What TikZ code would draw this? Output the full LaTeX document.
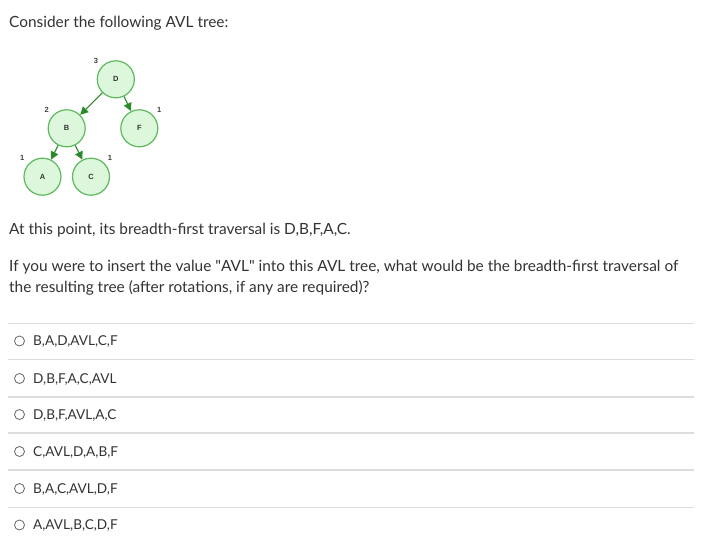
\documentclass[tikz,border=0pt]{standalone}
\usepackage{fontspec}
\setmainfont{Lato}
\newfontfamily\nodefont{Liberation Sans}
\usetikzlibrary{arrows.meta}
\definecolor{txt}{HTML}{333333}
\definecolor{nfill}{HTML}{DDF7DD}
\definecolor{nline}{HTML}{5DB95D}
\definecolor{earrow}{HTML}{2A8A2A}
\definecolor{sep}{HTML}{DDDDDD}
\definecolor{radio}{HTML}{666666}
\tikzset{
  tnode/.style={circle, draw=nline, fill=nfill, line width=1.2pt, minimum size=37pt, inner sep=0pt, font=\nodefont\bfseries\fontsize{7.5}{8}\selectfont, text=black!80},
  hlabel/.style={font=\nodefont\bfseries\fontsize{7.5}{8}\selectfont, text=black!75, inner sep=0pt},
  tedge/.style={draw=earrow, line width=1.1pt, -{Triangle[length=8pt,width=8pt]}},
  para/.style={anchor=base west, inner sep=0pt, text=txt, font=\fontsize{15.4}{18}\selectfont},
  opt/.style={anchor=base west, inner sep=0pt, text=txt, font=\fontsize{13.6}{15}\selectfont},
  sepline/.style={draw=sep, line width=1.6pt},
  radiob/.style={circle, draw=radio, line width=0.8pt, minimum size=10pt, inner sep=0pt}
}
\begin{document}
\begin{tikzpicture}[x=1pt,y=-1pt]
\useasboundingbox[fill=white] (0,0) rectangle (702,543);
\node[para] (t1) at (9,27.5) {Consider the following AVL tree:};
% tree
\node[tnode] (D) at (115.8,79.3) {D};
\node[tnode] (B) at (66.7,128.3) {B};
\node[tnode] (F) at (139.3,128.3) {F};
\node[tnode] (A) at (42.5,176.7) {A};
\node[tnode] (C) at (91,176.7) {C};
\node[hlabel] (lD) at (96,61) {3};
\node[hlabel] (lB) at (46.7,110) {2};
\node[hlabel] (lF) at (159.3,109.5) {1};
\node[hlabel] (lA) at (22.3,157.5) {1};
\node[hlabel] (lC) at (110,157.5) {1};
\draw[tedge] (D) -- (B);
\draw[tedge] (D) -- (F);
\draw[tedge] (B) -- (A);
\draw[tedge] (B) -- (C);
% paragraphs
\node[para] (t2) at (9,234.5) {At this point, its breadth-first traversal is D,B,F,A,C.};
\node[para] (t3) at (9,271.5) {If you were to insert the value \textquotedbl AVL\textquotedbl{} into this AVL tree, what would be the breadth-first traversal of};
\node[para] (t4) at (9,292.5) {the resulting tree (after rotations, if any are required)?};
% options
\coordinate (s1a) at (8,323.3); \coordinate (s1b) at (694,323.3);
\coordinate (s2a) at (8,359.5); \coordinate (s2b) at (694,359.5);
\coordinate (s3a) at (8,397); \coordinate (s3b) at (694,397);
\coordinate (s4a) at (8,433); \coordinate (s4b) at (694,433);
\coordinate (s5a) at (8,470); \coordinate (s5b) at (694,470);
\coordinate (s6a) at (8,507.5); \coordinate (s6b) at (694,507.5);
\draw[sepline] (s1a) -- (s1b);
\draw[sepline] (s2a) -- (s2b);
\draw[sepline] (s3a) -- (s3b);
\draw[sepline] (s4a) -- (s4b);
\draw[sepline] (s5a) -- (s5b);
\draw[sepline] (s6a) -- (s6b);
\node[radiob] (r1) at (19.5,341) {};
\node[radiob] (r2) at (19.5,378.5) {};
\node[radiob] (r3) at (19.5,414.5) {};
\node[radiob] (r4) at (19.5,451.5) {};
\node[radiob] (r5) at (19.5,488.5) {};
\node[radiob] (r6) at (19.5,525) {};
\node[opt] (o1) at (33,345.5) {B,A,D,AVL,C,F};
\node[opt] (o2) at (33,383) {D,B,F,A,C,AVL};
\node[opt] (o3) at (33,419) {D,B,F,AVL,A,C};
\node[opt] (o4) at (33,456) {C,AVL,D,A,B,F};
\node[opt] (o5) at (33,493) {B,A,C,AVL,D,F};
\node[opt] (o6) at (33,529.5) {A,AVL,B,C,D,F};
\end{tikzpicture}
\end{document}
